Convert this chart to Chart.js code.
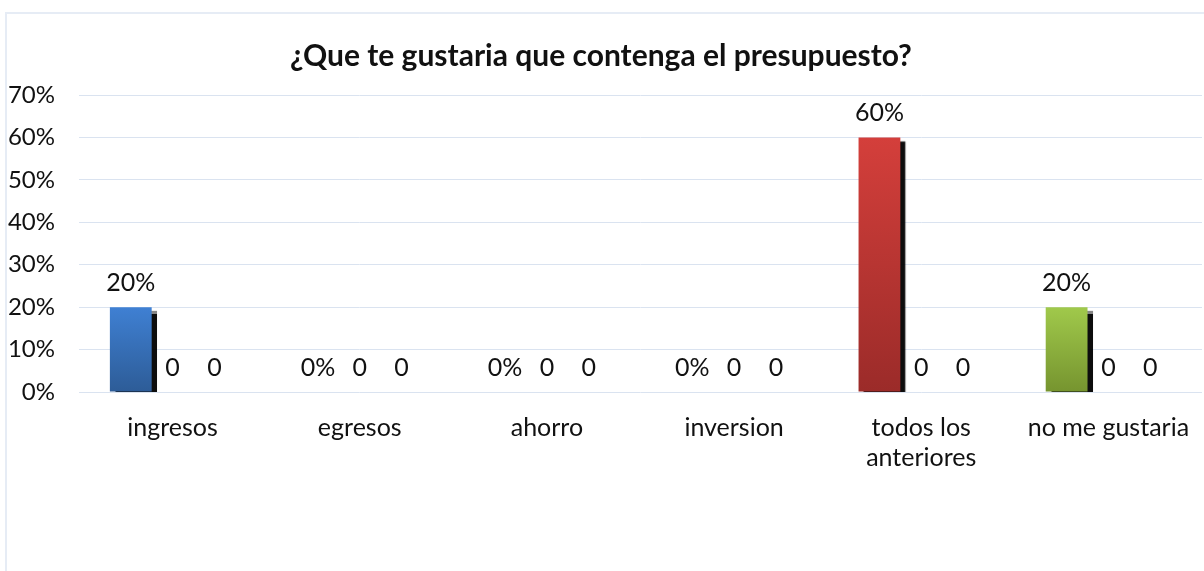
<!DOCTYPE html>
<html>
<head>
<meta charset="utf-8">
<script src="https://cdn.jsdelivr.net/npm/chart.js@4.4.1/dist/chart.umd.min.js"></script>
<style>
  html, body { margin: 0; padding: 0; background: #fff; }
  #wrap { position: relative; width: 1204px; height: 571px; }
  #frame { position: absolute; left: 5px; top: 12px; right: -4px; bottom: -4px;
           border-top: 2px solid #e6ecf5; border-left: 2px solid #e6ecf5; }
  canvas { position: absolute; left: 0; top: 0; }
</style>
</head>
<body>
<div id="wrap">
  <div id="frame"></div>
  <canvas id="chart" width="1204" height="571"></canvas>
</div>
<script>
// chart values
const categories = ["ingresos", "egresos", "ahorro", "inversion", ["todos los", "anteriores"], "no me gustaria"];
const percentValues = [20, 0, 0, 0, 60, 20];
const serie2Values = [0, 0, 0, 0, 0, 0];
const serie3Values = [0, 0, 0, 0, 0, 0];
const yTickMax = 70;
const yTickStep = 10;

// gradient top / bottom per bar of the first series
const barTop = ["#3f80d3", "#d2413d", "#9fc84a", "#3f80d3", "#d43f3b", "#a0c94b"];
const barBottom = ["#2d5c97", "#9b2c2a", "#779633", "#2d5c97", "#9b2b29", "#76942f"];

const FONT = "Lato, 'Open Sans', sans-serif";
const TEXT = "#111";

function gradientFill(context) {
  const chart = context.chart;
  const i = context.dataIndex;
  if (!chart.chartArea) return barTop[i];
  const y = chart.scales.y;
  const v = context.dataset.data[i];
  const top = y.getPixelForValue(v);
  const bottom = y.getPixelForValue(0);
  if (bottom - top < 1) return barTop[i];
  const g = chart.ctx.createLinearGradient(0, top, 0, bottom);
  g.addColorStop(0, barTop[i]);
  g.addColorStop(1, barBottom[i]);
  return g;
}

// black drop shadow behind the bars
const barShadow = {
  id: 'barShadow',
  beforeDatasetDraw(chart) {
    const ctx = chart.ctx;
    ctx.save();
    ctx.shadowColor = 'rgba(0,0,0,0.95)';
    ctx.shadowOffsetX = 5;
    ctx.shadowOffsetY = 4;
    ctx.shadowBlur = 1;
  },
  afterDatasetDraw(chart) {
    chart.ctx.restore();
  }
};

// value labels above each bar
const valueLabels = {
  id: 'valueLabels',
  afterDatasetsDraw(chart) {
    const ctx = chart.ctx;
    ctx.save();
    ctx.font = "25px " + FONT;
    ctx.fillStyle = TEXT;
    ctx.textAlign = 'center';
    ctx.textBaseline = 'middle';
    chart.data.datasets.forEach((ds, di) => {
      const meta = chart.getDatasetMeta(di);
      meta.data.forEach((el, i) => {
        const v = ds.data[i];
        const txt = di === 0 ? v + '%' : String(v);
        ctx.fillText(txt, el.x, el.y - 24);
      });
    });
    ctx.restore();
  }
};

new Chart(document.getElementById('chart').getContext('2d'), {
  type: 'bar',
  data: {
    labels: categories,
    datasets: [
      { label: 'Serie 1', data: percentValues, backgroundColor: gradientFill },
      { label: 'Serie 2', data: serie2Values, backgroundColor: '#c0504d' },
      { label: 'Serie 3', data: serie3Values, backgroundColor: '#9bbb59' }
    ]
  },
  options: {
    responsive: false,
    animation: false,
    layout: { padding: { top: 0, right: 2, bottom: 0, left: 0 } },
    datasets: { bar: { categoryPercentage: 0.67, barPercentage: 1.0, borderWidth: 0 } },
    plugins: {
      legend: { display: false },
      tooltip: { enabled: false },
      title: {
        display: true,
        text: '¿Que te gustaria que contenga el presupuesto?',
        color: TEXT,
        font: { family: FONT, size: 30, weight: 'bold', lineHeight: 1.2 },
        padding: { top: 38, bottom: 21 }
      }
    },
    scales: {
      x: {
        grid: { display: false, drawTicks: false },
        border: { display: false },
        ticks: { color: TEXT, font: { family: FONT, size: 25, lineHeight: 1.2 }, padding: 21, maxRotation: 0, autoSkip: false },
        afterFit(scale) {
          scale.height = 179;
          scale.paddingLeft = 0;
          scale.paddingRight = 0;
        }
      },
      y: {
        min: 0,
        max: yTickMax,
        grid: { color: '#dae3f0', lineWidth: 1, drawTicks: false },
        border: { display: false },
        ticks: { stepSize: yTickStep, color: TEXT, font: { family: FONT, size: 24 }, padding: 24,
                 callback: v => v + '%' },
        afterFit(scale) { scale.width = 79; }
      }
    }
  },
  plugins: [barShadow, valueLabels]
});
</script>
</body>
</html>
